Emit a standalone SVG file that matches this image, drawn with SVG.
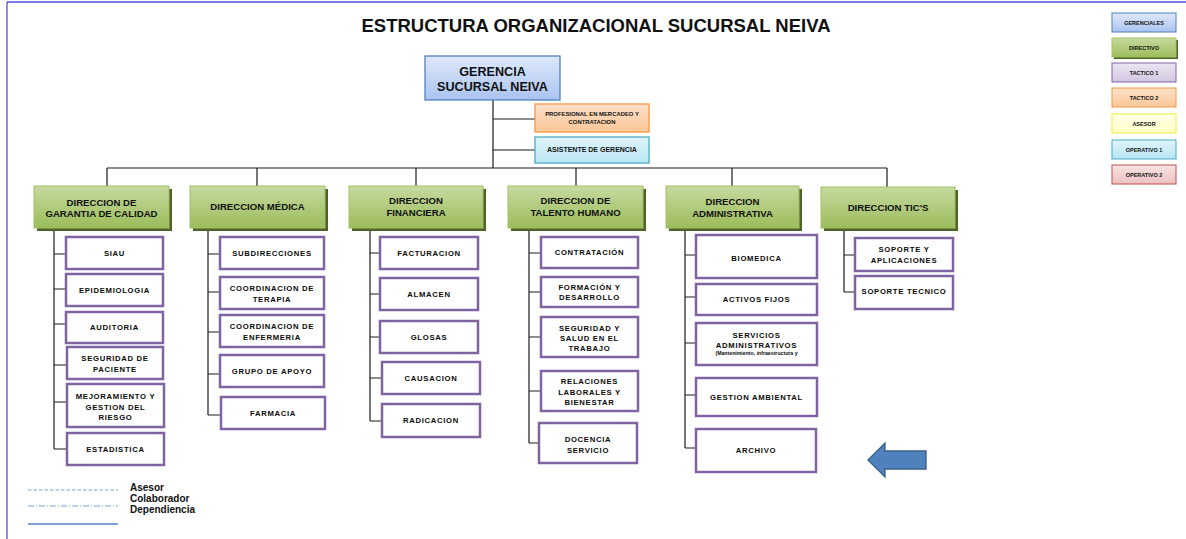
<svg xmlns="http://www.w3.org/2000/svg" width="1186" height="539" viewBox="0 0 1186 539">
<defs>
<linearGradient id="gB" x1="0" y1="0" x2="0" y2="1"><stop offset="0" stop-color="#dfe9fc"/><stop offset="1" stop-color="#a9c3ef"/></linearGradient>
<linearGradient id="gG" x1="0" y1="0" x2="0" y2="1"><stop offset="0" stop-color="#c6da9f"/><stop offset="1" stop-color="#9cbc5b"/></linearGradient>
<linearGradient id="gO" x1="0" y1="0" x2="0" y2="1"><stop offset="0" stop-color="#fde1c9"/><stop offset="1" stop-color="#fbc697"/></linearGradient>
<linearGradient id="gC" x1="0" y1="0" x2="0" y2="1"><stop offset="0" stop-color="#e0f4fa"/><stop offset="1" stop-color="#b9e6f3"/></linearGradient>
<linearGradient id="gP" x1="0" y1="0" x2="0" y2="1"><stop offset="0" stop-color="#ece6f3"/><stop offset="1" stop-color="#d2c6e1"/></linearGradient>
<linearGradient id="gY" x1="0" y1="0" x2="0" y2="1"><stop offset="0" stop-color="#ffffea"/><stop offset="1" stop-color="#ffffc6"/></linearGradient>
<linearGradient id="gR" x1="0" y1="0" x2="0" y2="1"><stop offset="0" stop-color="#f7e4e3"/><stop offset="1" stop-color="#ebc0bf"/></linearGradient>
</defs>
<style>
text{font-family:"Liberation Sans",Arial,sans-serif;font-weight:bold;fill:#111;text-anchor:middle}
.sub rect{fill:#fff;stroke:#8064a2;stroke-width:2.5}
.sub text{font-size:7.7px;letter-spacing:0.7px;fill:#0a0a0a}
.dir .sh{fill:#4f6228}
.dir .m{fill:url(#gG);stroke:#a3c067;stroke-width:1}
.dir text{font-size:9.6px}
.leg text{font-size:5.5px}
#connectors path{stroke:#1c1c1c;stroke-width:1.2;fill:none}
.ll{stroke:#7fa2d4;fill:none}
</style>
<rect x="0" y="0" width="1186" height="539" fill="#fff"/>
<path d="M7,2H1186M7,2V539" stroke="#5252dc" stroke-width="1.3" fill="none"/>

<text x="596" y="32" style="font-size:18.5px">ESTRUCTURA ORGANIZACIONAL SUCURSAL NEIVA</text>

<g id="connectors">
<path d="M493,100V168M107,168H887M493,119H535M493,150H535M107,168V186M257,168V186M416,168V186M576,168V186M732,168V186M887,168V187"/>
<path d="M54,230V449M54,254H66M54,289H66M54,324H66M54,365H67M54,402H67M54,449H67"/>
<path d="M208,228V415M208,254H220M208,292H220M208,332H220M208,374H220M208,415H221"/>
<path d="M370,228V421M370,253H380M370,294H380M370,337H380M370,378H382M370,421H382"/>
<path d="M529,228V443M529,253H541M529,292H541M529,337H541M529,391H541M529,443H539"/>
<path d="M685,228V448M685,255H696M685,297H696M685,343H696M685,395H696M685,448H696"/>
<path d="M844,228V292M844,255H855M844,292H855"/>
</g>

<g id="gerencia">
<rect x="425" y="56" width="135" height="44" fill="url(#gB)" stroke="#4f81bd" stroke-width="1.3"/>
<text x="492.5" y="76" style="font-size:12.6px">GERENCIA</text>
<text x="492.5" y="91" style="font-size:12.6px">SUCURSAL NEIVA</text>
</g>
<g id="profesional">
<rect x="535" y="104" width="114" height="28" fill="url(#gO)" stroke="#f79646" stroke-width="1.3"/>
<text x="592" y="116" style="font-size:5.9px">PROFESIONAL EN MERCADEO Y</text>
<text x="592" y="124" style="font-size:5.9px">CONTRATACION</text>
</g>
<g id="asistente">
<rect x="535" y="137" width="114" height="26" fill="url(#gC)" stroke="#4bacc6" stroke-width="1.3"/>
<text x="592" y="152" style="font-size:7px">ASISTENTE DE GERENCIA</text>
</g>

<g id="dir-calidad" class="dir">
<rect class="sh" x="37" y="189" width="135" height="42"/>
<rect class="m" x="34" y="186" width="135" height="42"/>
<text x="101.5" y="206">DIRECCION DE</text>
<text x="101.5" y="217">GARANTIA DE CALIDAD</text>
</g>
<g id="dir-medica" class="dir">
<rect class="sh" x="193" y="189" width="135" height="42"/>
<rect class="m" x="190" y="186" width="135" height="42"/>
<text x="257.5" y="209.5">DIRECCION MÉDICA</text>
</g>
<g id="dir-financiera" class="dir">
<rect class="sh" x="352" y="189" width="134" height="42"/>
<rect class="m" x="349" y="186" width="134" height="42"/>
<text x="416" y="204">DIRECCION</text>
<text x="416" y="216">FINANCIERA</text>
</g>
<g id="dir-talento" class="dir">
<rect class="sh" x="511" y="189" width="135" height="42"/>
<rect class="m" x="508" y="186" width="135" height="42"/>
<text x="575.5" y="204">DIRECCION DE</text>
<text x="575.5" y="216">TALENTO HUMANO</text>
</g>
<g id="dir-administrativa" class="dir">
<rect class="sh" x="669" y="189" width="133" height="42"/>
<rect class="m" x="666" y="186" width="133" height="42"/>
<text x="732.5" y="205">DIRECCION</text>
<text x="732.5" y="216.5">ADMINISTRATIVA</text>
</g>
<g id="dir-tics" class="dir">
<rect class="sh" x="824" y="190" width="134" height="41"/>
<rect class="m" x="821" y="187" width="134" height="41"/>
<text x="888" y="210.8">DIRECCION TIC'S</text>
</g>

<g id="siau" class="sub"><rect x="66" y="237" width="97" height="32"/><text x="114.5" y="255.7">SIAU</text></g>
<g id="epidemiologia" class="sub"><rect x="66" y="274" width="97" height="32"/><text x="114.5" y="292.7">EPIDEMIOLOGIA</text></g>
<g id="auditoria" class="sub"><rect x="66" y="312" width="97" height="31"/><text x="114.5" y="330">AUDITORIA</text></g>
<g id="seguridad-paciente" class="sub"><rect x="67" y="347" width="96" height="32"/><text x="115" y="360.7">SEGURIDAD DE</text><text x="115" y="371.7">PACIENTE</text></g>
<g id="mejoramiento" class="sub"><rect x="67" y="384" width="97" height="43"/><text x="115.5" y="398.7">MEJORAMIENTO Y</text><text x="115.5" y="409.7">GESTION DEL</text><text x="115.5" y="420">RIESGO</text></g>
<g id="estadistica" class="sub"><rect x="67" y="433" width="97" height="32"/><text x="115.5" y="451.7">ESTADISTICA</text></g>

<g id="subdirecciones" class="sub"><rect x="220" y="237" width="104" height="32"/><text x="272" y="255.7">SUBDIRECCIONES</text></g>
<g id="coord-terapia" class="sub"><rect x="220" y="277" width="104" height="32"/><text x="272" y="290.5">COORDINACION DE</text><text x="272" y="301.8">TERAPIA</text></g>
<g id="coord-enfermeria" class="sub"><rect x="220" y="315" width="104" height="32"/><text x="272" y="328.7">COORDINACION DE</text><text x="272" y="339.7">ENFERMERIA</text></g>
<g id="grupo-apoyo" class="sub"><rect x="220" y="355" width="104" height="32"/><text x="272" y="373.7">GRUPO DE APOYO</text></g>
<g id="farmacia" class="sub"><rect x="221" y="397" width="104" height="32"/><text x="273" y="415.7">FARMACIA</text></g>

<g id="facturacion" class="sub"><rect x="380" y="237" width="98" height="32"/><text x="429" y="255.7">FACTURACION</text></g>
<g id="almacen" class="sub"><rect x="380" y="278" width="98" height="32"/><text x="429" y="296.7">ALMACEN</text></g>
<g id="glosas" class="sub"><rect x="380" y="321" width="98" height="32"/><text x="429" y="339.7">GLOSAS</text></g>
<g id="causacion" class="sub"><rect x="382" y="362" width="98" height="32"/><text x="431" y="380.7">CAUSACION</text></g>
<g id="radicacion" class="sub"><rect x="382" y="404" width="98" height="33"/><text x="431" y="423.2">RADICACION</text></g>

<g id="contratacion" class="sub"><rect x="541" y="237" width="97" height="31"/><text x="589.5" y="255.2">CONTRATACIÓN</text></g>
<g id="formacion" class="sub"><rect x="541" y="277" width="97" height="30"/><text x="589.5" y="289.7">FORMACIÓN Y</text><text x="589.5" y="299.9">DESARROLLO</text></g>
<g id="sst" class="sub"><rect x="541" y="317" width="97" height="40"/><text x="589.5" y="330.7">SEGURIDAD Y</text><text x="589.5" y="340.7">SALUD EN EL</text><text x="589.5" y="350.7">TRABAJO</text></g>
<g id="relaciones" class="sub"><rect x="541" y="371" width="97" height="40"/><text x="589.5" y="383.7">RELACIONES</text><text x="589.5" y="394.5">LABORALES Y</text><text x="589.5" y="404.7">BIENESTAR</text></g>
<g id="docencia" class="sub"><rect x="539" y="423" width="98" height="40"/><text x="588" y="441.7">DOCENCIA</text><text x="588" y="452.7">SERVICIO</text></g>

<g id="biomedica" class="sub"><rect x="696" y="235" width="121" height="43"/><text x="756.5" y="260.5">BIOMEDICA</text></g>
<g id="activos" class="sub"><rect x="696" y="284" width="121" height="31"/><text x="756.5" y="302">ACTIVOS FIJOS</text></g>
<g id="servicios-adm" class="sub"><rect x="696" y="323" width="121" height="42"/><text x="756.5" y="337.7">SERVICIOS</text><text x="756.5" y="347.7">ADMINISTRATIVOS</text><text x="756.5" y="355" style="font-size:5.2px;letter-spacing:0">(Mantenimiento, infraestructura y</text></g>
<g id="gestion-ambiental" class="sub"><rect x="696" y="378" width="121" height="38"/><text x="756.5" y="400">GESTION AMBIENTAL</text></g>
<g id="archivo" class="sub"><rect x="696" y="429" width="120" height="43"/><text x="756" y="453">ARCHIVO</text></g>

<g id="soporte-aplicaciones" class="sub"><rect x="855" y="238" width="98" height="33"/><text x="904" y="252">SOPORTE Y</text><text x="904" y="262.7">APLICACIONES</text></g>
<g id="soporte-tecnico" class="sub"><rect x="855" y="276" width="98" height="33"/><text x="904" y="294.4">SOPORTE TECNICO</text></g>

<g id="arrow">
<polygon points="868,460 885,443 885,451 926,451 926,469 885,469 885,477" fill="#4f81bd" stroke="#385d8a" stroke-width="1.3"/>
</g>

<g id="legend-levels" class="leg">
<rect x="1112" y="13" width="64" height="19" fill="url(#gB)" stroke="#4f81bd"/>
<text x="1144" y="24.5">GERENCIALES</text>
<rect x="1114" y="40" width="64" height="19" fill="#4f6228"/>
<rect x="1112" y="38" width="64" height="19" fill="url(#gG)" stroke="#a3c067"/>
<text x="1144" y="49.5">DIRECTIVO</text>
<rect x="1112" y="63" width="64" height="19" fill="url(#gP)" stroke="#8064a2"/>
<text x="1144" y="74.5">TACTICO 1</text>
<rect x="1112" y="88" width="64" height="19" fill="url(#gO)" stroke="#f79646"/>
<text x="1144" y="99.5">TACTICO 2</text>
<rect x="1112" y="114" width="64" height="19" fill="url(#gY)" stroke="#eded40"/>
<text x="1144" y="125.5">ASESOR</text>
<rect x="1112" y="140" width="64" height="19" fill="url(#gC)" stroke="#4bacc6"/>
<text x="1144" y="151.5">OPERATIVO 1</text>
<rect x="1112" y="165" width="64" height="19" fill="url(#gR)" stroke="#c0504d"/>
<text x="1144" y="176.5">OPERATIVO 2</text>
</g>

<g id="legend-lines">
<line class="ll" x1="28" y1="490" x2="118" y2="490" stroke-width="1.1" stroke-dasharray="3.5,2"/>
<line class="ll" x1="28" y1="506" x2="118" y2="506" stroke-width="1.1" stroke-dasharray="6,2,1,2"/>
<line class="ll" x1="28" y1="524" x2="118" y2="524" stroke-width="1.8"/>
<text x="130" y="490.5" style="font-size:10px;text-anchor:start">Asesor</text>
<text x="130" y="501.7" style="font-size:10px;text-anchor:start">Colaborador</text>
<text x="130" y="512.7" style="font-size:10px;text-anchor:start">Dependiencia</text>
</g>
</svg>
